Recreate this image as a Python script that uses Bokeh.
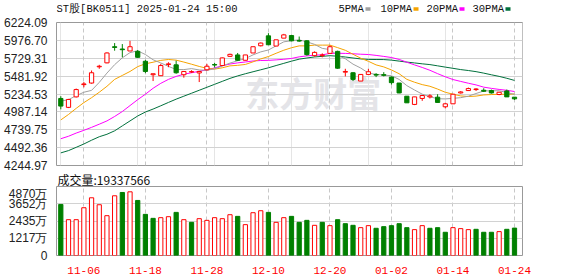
from bokeh.plotting import figure
from bokeh.layouts import column
from bokeh.models import Range1d, FixedTicker, Grid, PrintfTickFormatter, ColumnDataSource
from bokeh.core.properties import value
from bokeh.embed import file_html
from bokeh.resources import INLINE

# ---------------- data ----------------
dates = ["11-01", "11-04", "11-05", "11-06", "11-07", "11-08", "11-11", "11-12", "11-13", "11-14",
         "11-15", "11-18", "11-19", "11-20", "11-21", "11-22", "11-25", "11-26", "11-27", "11-28",
         "11-29", "12-02", "12-03", "12-04", "12-05", "12-06", "12-09", "12-10", "12-11", "12-12",
         "12-13", "12-16", "12-17", "12-18", "12-19", "12-20", "12-23", "12-24", "12-25", "12-26",
         "12-27", "12-30", "12-31", "01-02", "01-03", "01-06", "01-07", "01-08", "01-09", "01-10",
         "01-13", "01-14", "01-15", "01-16", "01-17", "01-20", "01-21", "01-22", "01-23", "01-24"]
tick_dates = ["11-06", "11-18", "11-28", "12-10", "12-20", "01-02", "01-14", "01-24"]

opens = [5172.7, 5049.5, 5194.6, 5364.3, 5386.2, 5610.8, 5665.5, 5888.7, 5857.2, 5829.8,
         5824.3, 5687.4, 5501.2, 5487.5, 5642.2, 5638.1, 5501.2, 5539.6, 5525.9, 5569.7,
         5642.2, 5628.5, 5755.9, 5775.0, 5701.1, 5802.4, 5902.3, 6039.2, 5898.2, 6007.8,
         6043.4, 5975.0, 5970.8, 5765.4, 5765.4, 5796.9, 5824.3, 5536.8, 5528.6, 5413.6,
         5505.3, 5505.3, 5502.6, 5468.4, 5386.2, 5204.2, 5090.5, 5172.7, 5194.6, 5190.5,
         5057.7, 5098.7, 5249.3, 5282.2, 5295.9, 5286.3, 5282.2, 5227.4, 5276.7, 5190.5]
highs = [5204.2, 5167.2, 5309.6, 5399.9, 5560.1, 5638.1, 5810.6, 5939.3, 5925.6, 5970.8,
         5843.5, 5706.6, 5514.9, 5651.8, 5673.7, 5697.0, 5546.4, 5563.0, 5546.4, 5651.8,
         5665.5, 5738.1, 5792.8, 5802.4, 5775.0, 5888.7, 5947.5, 6076.2, 5984.5, 6066.6,
         6052.9, 6029.7, 5980.4, 5824.3, 5796.9, 5906.5, 5833.9, 5583.4, 5536.8, 5505.3,
         5583.4, 5523.1, 5536.8, 5478.0, 5386.2, 5204.2, 5194.6, 5213.7, 5231.5, 5231.5,
         5112.4, 5231.5, 5272.6, 5323.3, 5313.7, 5313.7, 5295.9, 5258.9, 5295.9, 5190.5]
lows = [5022.1, 5039.9, 5186.4, 5327.4, 5378.0, 5583.4, 5660.0, 5833.9, 5742.2, 5829.8,
        5734.0, 5523.1, 5413.6, 5487.5, 5605.3, 5514.9, 5460.2, 5528.6, 5399.9, 5560.1,
        5601.2, 5628.5, 5747.7, 5692.9, 5701.1, 5802.4, 5892.8, 5911.9, 5898.2, 6007.8,
        5964.0, 5957.1, 5765.4, 5751.8, 5742.2, 5796.9, 5583.4, 5478.0, 5413.6, 5413.6,
        5505.3, 5468.4, 5478.0, 5364.3, 5245.2, 5112.4, 5080.9, 5139.8, 5172.7, 5117.9,
        5035.8, 5098.7, 5241.1, 5282.2, 5276.7, 5263.0, 5241.1, 5217.8, 5194.6, 5153.5]
closes = [5067.3, 5159.0, 5295.9, 5373.9, 5528.6, 5619.0, 5802.4, 5879.1, 5847.6, 5888.7,
          5742.2, 5546.4, 5514.9, 5628.5, 5651.8, 5528.6, 5546.4, 5543.7, 5546.4, 5619.0,
          5635.4, 5734.0, 5783.2, 5701.1, 5775.0, 5888.7, 5939.3, 5916.0, 5984.5, 6052.9,
          5970.8, 5966.7, 5779.1, 5810.6, 5775.0, 5888.7, 5591.6, 5546.4, 5436.9, 5505.3,
          5542.3, 5495.8, 5493.0, 5391.7, 5249.3, 5112.4, 5194.6, 5213.7, 5208.3, 5117.9,
          5098.7, 5231.5, 5263.0, 5309.6, 5304.1, 5272.6, 5249.3, 5258.9, 5194.6, 5167.2]

ma5 = [5135.7, 5156.2, 5211.0, 5258.9, 5284.9, 5395.3, 5524.0, 5640.6, 5735.3, 5807.4,
       5832.0, 5780.8, 5708.0, 5664.1, 5616.8, 5574.0, 5572.1, 5585.8, 5567.5, 5562.8,
       5582.8, 5622.2, 5662.2, 5695.1, 5724.4, 5776.4, 5817.5, 5844.0, 5900.7, 5956.3,
       5972.7, 5983.7, 5956.3, 5921.5, 5865.9, 5849.5, 5769.0, 5722.5, 5647.7, 5593.8,
       5524.5, 5505.3, 5496.3, 5487.3, 5436.1, 5350.1, 5289.8, 5232.3, 5195.7, 5169.4,
       5166.6, 5174.0, 5183.9, 5204.1, 5241.4, 5276.2, 5279.7, 5278.9, 5255.9, 5228.5]
ma10 = [4875.6, 4950.9, 5035.8, 5115.2, 5183.6, 5258.9, 5341.1, 5436.9, 5491.6, 5546.2,
        5613.6, 5652.4, 5674.3, 5699.7, 5712.1, 5703.0, 5676.5, 5646.9, 5615.8, 5589.8,
        5578.4, 5597.2, 5624.0, 5631.3, 5643.6, 5679.6, 5719.9, 5753.1, 5797.9, 5840.3,
        5874.6, 5900.6, 5900.2, 5911.1, 5911.1, 5911.1, 5876.3, 5839.4, 5784.6, 5729.9,
        5687.0, 5637.2, 5609.4, 5567.5, 5514.9, 5437.3, 5397.6, 5364.3, 5341.5, 5302.7,
        5258.4, 5231.9, 5208.1, 5199.9, 5205.4, 5221.4, 5226.9, 5231.4, 5230.0, 5235.0]
ma20 = [4615.5, 4649.7, 4693.5, 4731.9, 4772.9, 4816.7, 4861.9, 4923.5, 4992.0, 5074.1,
        5156.2, 5231.5, 5313.7, 5382.1, 5436.9, 5478.0, 5508.1, 5528.6, 5549.1, 5568.0,
        5596.0, 5624.8, 5649.1, 5665.5, 5677.8, 5691.3, 5698.2, 5700.0, 5706.8, 5715.1,
        5726.5, 5748.9, 5762.1, 5771.2, 5777.3, 5795.4, 5798.1, 5796.2, 5791.2, 5785.1,
        5780.8, 5768.9, 5754.8, 5739.3, 5713.0, 5674.2, 5637.0, 5601.8, 5563.0, 5516.3,
        5472.7, 5434.6, 5408.7, 5383.7, 5360.2, 5329.3, 5312.2, 5297.9, 5285.7, 5268.8]
ma30 = [4419.7, 4451.2, 4496.4, 4542.9, 4595.0, 4642.9, 4677.1, 4725.0, 4793.5, 4861.9,
        4930.4, 4985.1, 5026.2, 5071.4, 5117.9, 5163.1, 5204.2, 5245.2, 5286.3, 5327.4,
        5368.4, 5409.5, 5450.6, 5484.8, 5514.9, 5542.3, 5569.7, 5597.1, 5628.5, 5658.8,
        5688.9, 5716.7, 5732.8, 5747.4, 5755.6, 5764.6, 5757.5, 5746.5, 5732.8, 5720.0,
        5713.3, 5711.6, 5711.2, 5703.3, 5689.9, 5676.0, 5664.6, 5652.3, 5641.3, 5624.3,
        5606.6, 5589.9, 5572.5, 5559.5, 5543.8, 5523.3, 5500.3, 5478.4, 5452.0, 5422.5]

# volume in 万
volume = [3605, 2528, 2528, 3371, 4073, 3582, 2809, 4214, 4448, 4495,
          3886, 2903, 2622, 2669, 2739, 3043, 2528, 2341, 2599, 2481,
          2669, 2599, 2879, 2762, 2177, 3020, 3160, 3043, 2341, 2669,
          2762, 2341, 2481, 2130, 2341, 2107, 2528, 2247, 2130, 1966,
          2107, 1920, 2037, 2107, 2247, 1966, 1826, 2107, 1920, 1966,
          1639, 1966, 1896, 1826, 1849, 1639, 1639, 1686, 1849, 1933.7566]

price_ticks = [4244.97, 4492.36, 4739.75, 4987.14, 5234.53, 5481.92, 5729.31, 5976.70, 6224.09]
vol_ticks = [0, 1217, 2435, 3652, 4870]
vol_tick_labels = ["0", "1217万", "2435万", "3652万", "4870万"]

title_text = "ST股[BK0511] 2025-01-24 15:00"
vol_text = "成交量:19337566"
ma_names = ["5PMA", "10PMA", "20PMA", "30PMA"]
watermark = "东方财富"

# ---------------- styling ----------------
RED = "#ff0000"
GREEN = "#008000"
MA_COLORS = ["#a0a0a0", "#f5a300", "#ff00ff", "#00703c"]
GRID = "#d2d2d2"
VGRID = "#c8c8c8"
OUTLINE = "#999999"
LEFT, RIGHT = 56, 56
W = 578

n = len(closes)
xs = list(range(n))
xt = [dates.index(d) for d in tick_dates]
x_range = Range1d(-0.56, 60.04)

up = [c >= o for o, c in zip(opens, closes)]
vol_up = [up[0]] + [closes[i] > closes[i - 1] for i in range(1, n)]


def split(flags, **cols):
    a = {k: [v for v, f in zip(vals, flags) if f] for k, vals in cols.items()}
    b = {k: [v for v, f in zip(vals, flags) if not f] for k, vals in cols.items()}
    return ColumnDataSource(a), ColumnDataSource(b)


def strip(h):
    """A text strip whose data units are page pixels (y grows downward).
    Its frame is aligned with the panels' frames (x 56..522)."""
    s = figure(width=W, height=h, x_range=Range1d(LEFT, W - RIGHT), y_range=Range1d(h, 0),
               output_backend="svg", toolbar_location=None,
               x_axis_location=None, y_axis_location=None,
               min_border_left=LEFT, min_border_right=RIGHT, min_border_top=0, min_border_bottom=0)
    s.outline_line_color = None
    s.xgrid.visible = False
    s.ygrid.visible = False
    return s


MONO = value("Liberation Mono")

# ---------------- header strip ----------------
p0 = strip(16)
p0.text(x=[56], y=[8.5], text=[title_text], text_font=MONO, text_font_size="10.5px",
        text_color="#111111", text_baseline="middle")
leg_x = [338, 380, 426, 472]
sw_x = [367.5, 415.5, 461.5, 507.5]
p0.text(x=leg_x, y=[8.5] * 4, text=ma_names, text_font=MONO, text_font_size="10.5px",
        text_color="#111111", text_baseline="middle")
p0.rect(x=sw_x, y=[8.5] * 4, width=5, height=3.5, fill_color=MA_COLORS, line_color=None)

# ---------------- price panel ----------------
p1 = figure(width=W, height=156, x_range=x_range, y_range=Range1d(4244.97, 6224.09),
            output_backend="svg", toolbar_location=None, x_axis_location=None,
            min_border_left=LEFT, min_border_right=RIGHT, min_border_top=6, min_border_bottom=7)
p1.outline_line_color = OUTLINE
p1.yaxis.ticker = FixedTicker(ticks=price_ticks)
p1.yaxis.formatter = PrintfTickFormatter(format="%.2f")
p1.yaxis.axis_line_color = None
p1.yaxis.major_tick_line_color = None
p1.yaxis.minor_tick_line_color = None
p1.yaxis.major_label_text_font = "Liberation Sans"
p1.yaxis.major_label_text_font_size = "12px"
p1.yaxis.major_label_text_color = "#222222"
p1.yaxis.major_label_standoff = 3
p1.ygrid.grid_line_color = GRID
p1.add_layout(Grid(dimension=0, ticker=FixedTicker(ticks=xt), grid_line_color=VGRID,
                   grid_line_dash="4 3"))

# faint brand watermark behind the candles
p1.text(x=[24.0], y=[5259.0], text=[watermark], text_font=value("Noto Sans CJK SC"),
        text_font_size="34px", text_font_style="bold", text_color="#e4e4e8",
        text_baseline="middle", level="underlay")

for vals, col in zip([ma30, ma20, ma10, ma5], MA_COLORS[::-1]):
    p1.line(xs, vals, line_color=col, line_width=1)

src_up, src_dn = split(up, x=xs, o=opens, h=highs, l=lows, c=closes)
p1.segment("x", "h", "x", "l", source=src_up, line_color=RED, line_width=1)
p1.segment("x", "h", "x", "l", source=src_dn, line_color=GREEN, line_width=1)
p1.vbar(x="x", top="c", bottom="o", width=0.55, source=src_up, fill_color="white",
        line_color=RED, line_width=1)
p1.vbar(x="x", top="o", bottom="c", width=0.55, source=src_dn, fill_color=GREEN,
        line_color=GREEN, line_width=1)

# ---------------- volume caption strip ----------------
pm = strip(14)
pm.text(x=[57], y=[6.5], text=[vol_text], text_font=value("Noto Sans CJK SC"),
        text_font_size="12px", text_color="#111111", text_baseline="middle")

# ---------------- volume panel ----------------
p2 = figure(width=W, height=90, x_range=x_range, y_range=Range1d(0, 4870),
            output_backend="svg", toolbar_location=None,
            min_border_left=LEFT, min_border_right=RIGHT, min_border_top=0, min_border_bottom=21)
p2.outline_line_color = OUTLINE
p2.yaxis.ticker = FixedTicker(ticks=vol_ticks)
p2.yaxis.major_label_overrides = {t: s for t, s in zip(vol_ticks, vol_tick_labels)}
p2.xaxis.ticker = FixedTicker(ticks=xt)
p2.xaxis.major_label_overrides = {i: dates[i] for i in xt}
for ax in (p2.yaxis, p2.xaxis):
    ax.axis_line_color = None
    ax.major_tick_line_color = None
    ax.minor_tick_line_color = None
p2.yaxis.major_label_text_font = "Liberation Sans"
p2.yaxis.major_label_text_font_size = "12px"
p2.yaxis.major_label_text_color = "#222222"
p2.yaxis.major_label_standoff = 3
p2.xaxis.major_label_text_font = "Liberation Mono"
p2.xaxis.major_label_text_font_size = "11px"
p2.xaxis.major_label_text_color = RED
p2.xaxis.major_label_standoff = 5
p2.ygrid.grid_line_color = GRID
p2.xgrid.ticker = FixedTicker(ticks=xt)
p2.xgrid.grid_line_color = VGRID
p2.xgrid.grid_line_dash = "4 3"

vsrc_up, vsrc_dn = split(vol_up, x=xs, v=volume)
p2.vbar(x="x", top="v", bottom=0, width=0.55, source=vsrc_up, fill_color="white",
        line_color=RED, line_width=1)
p2.vbar(x="x", top="v", bottom=0, width=0.55, source=vsrc_dn, fill_color=GREEN,
        line_color=GREEN, line_width=1)

layout = column(p0, p1, pm, p2, spacing=0)
open("out.html", "w").write(file_html(layout, INLINE))
